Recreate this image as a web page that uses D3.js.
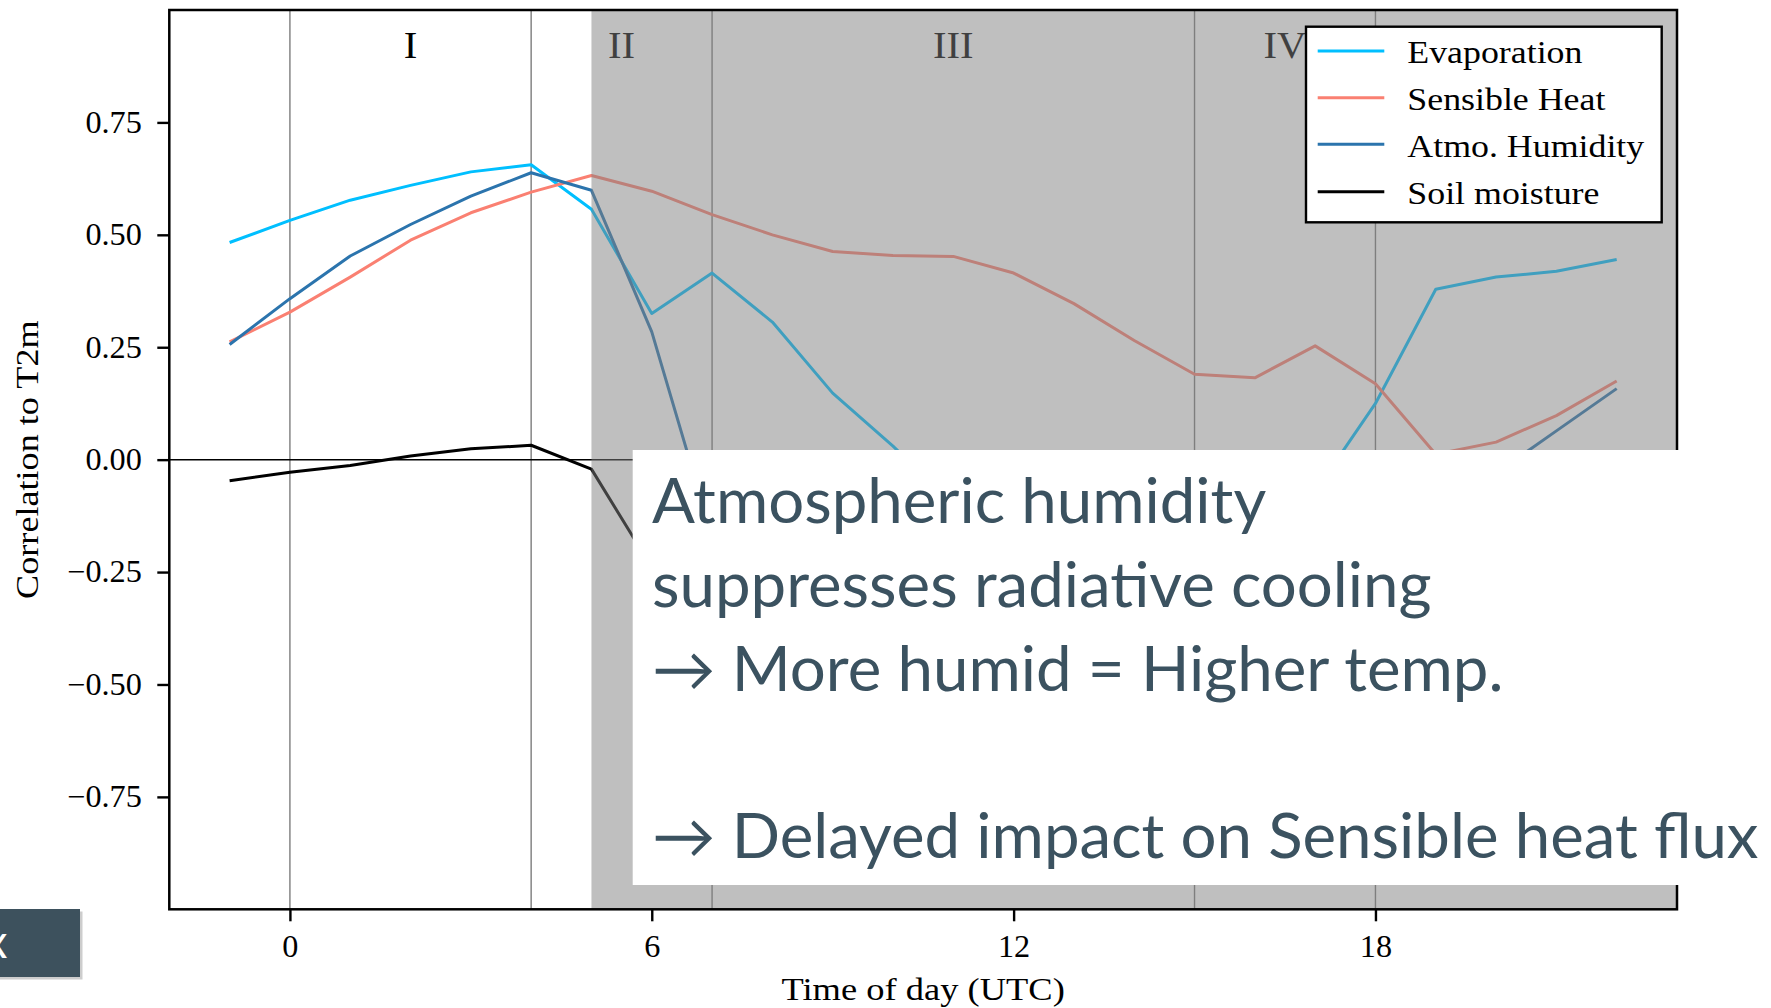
<!DOCTYPE html>
<html><head><meta charset="utf-8">
<script src="https://cdn.jsdelivr.net/npm/d3@7"></script>
<style>html,body{margin:0;padding:0;background:#fff;overflow:hidden}</style>
</head><body><svg id="c" width="1771" height="1008"></svg>
<script>
// ---------- data ----------
const hours = [-1,0,1,2,3,4,5,6,7,8,9,10,11,12,13,14,15,16,17,18,19,20,21,22];
const evaporation  = [0.483,0.532,0.577,0.610,0.640,0.656,0.557,0.325,0.415,0.306,0.148,0.030,-0.10,-0.21,-0.29,-0.33,-0.32,-0.24,-0.071,0.125,0.379,0.406,0.419,0.445];
const sensibleHeat = [0.262,0.328,0.406,0.488,0.549,0.595,0.632,0.597,0.545,0.500,0.463,0.454,0.452,0.415,0.347,0.265,0.190,0.182,0.253,0.169,0.012,0.039,0.098,0.175];
const atmoHumidity = [0.256,0.358,0.453,0.523,0.586,0.638,0.599,0.284,-0.17,-0.45,-0.60,-0.68,-0.70,-0.68,-0.62,-0.55,-0.45,-0.38,-0.30,-0.22,-0.12,-0.030,0.064,0.158];
const soilMoisture = [-0.047,-0.028,-0.013,0.008,0.024,0.032,-0.021,-0.24,-0.35,-0.42,-0.46,-0.48,-0.49,-0.49,-0.47,-0.44,-0.40,-0.36,-0.30,-0.25,-0.20,-0.17,-0.15,-0.14];
const seriesNames  = ["Evaporation","Sensible Heat","Atmo. Humidity","Soil moisture"];
const seriesColors = ["#00bfff","#fa8072","#2b74ad","#000000"];
const xTicks = [0,6,12,18];
const yTicks = [-0.75,-0.5,-0.25,0,0.25,0.5,0.75];
const phaseBounds  = [0,4,7,15,18];
const phaseLabels  = ["I","II","III","IV","V"];
const phaseCenters = [2,5.5,11,16.5,20.5];
const shadeStart = 5;
const xLabel = "Time of day (UTC)";
const yLabel = "Correlation to T2m";
const noteLines = ["Atmospheric humidity","suppresses radiative cooling","\u2192 More humid = Higher temp.","","\u2192 Delayed impact on Sensible heat flux"];

// ---------- layout ----------
const svg = d3.select("#c");
const L = 169.3, R = 1677, T = 10, B = 909.3;
const x = d3.scaleLinear().domain([-2,23]).range([L,R]);
const y = d3.scaleLinear().domain([-1,1]).range([B,T]);
const serif = "'Liberation Serif','Times New Roman',serif";

// widen glyphs to mimic Computer Modern proportions
function stretch(sel, f){
  sel.each(function(){
    const w = this.getComputedTextLength();
    if (w > 0) d3.select(this).attr("textLength", w*f).attr("lengthAdjust","spacingAndGlyphs");
  });
}

svg.append("rect").attr("width",1771).attr("height",1008).attr("fill","#fff");
svg.append("defs").append("clipPath").attr("id","pc")
  .append("rect").attr("x",L).attr("y",T).attr("width",R-L).attr("height",B-T);

const plot = svg.append("g").attr("clip-path","url(#pc)");

// phase boundaries
plot.selectAll("line.vb").data(phaseBounds).enter().append("line")
  .attr("x1",d=>x(d)).attr("x2",d=>x(d)).attr("y1",T).attr("y2",B)
  .attr("stroke","#7c7c7c").attr("stroke-width",1.4);
// zero line
plot.append("line").attr("x1",L).attr("x2",R).attr("y1",y(0)).attr("y2",y(0))
  .attr("stroke","#000").attr("stroke-width",1.5);

// series
const seriesData = [evaporation, sensibleHeat, atmoHumidity, soilMoisture];
const line = d3.line().x((d,i)=>x(hours[i])).y(d=>y(d));
seriesData.forEach((s,k)=>{
  plot.append("path").datum(s).attr("d",line).attr("fill","none")
    .attr("stroke",seriesColors[k]).attr("stroke-width",3)
    .attr("stroke-linejoin","round").attr("stroke-linecap","butt");
});

// phase labels
const ph = plot.selectAll("text.ph").data(phaseLabels).enter().append("text")
  .attr("x",(d,i)=>x(phaseCenters[i])).attr("y",58)
  .attr("text-anchor","middle").attr("font-family",serif).attr("font-size",37)
  .attr("fill","#000").text(d=>d);
stretch(ph,1.1);

// shading
plot.append("rect").attr("x",x(shadeStart)).attr("y",T).attr("width",R-x(shadeStart)).attr("height",B-T)
  .attr("fill","#808080").attr("fill-opacity",0.5);

// axes
const ya = svg.append("g").attr("transform",`translate(${L},0)`)
  .call(d3.axisLeft(y).tickValues(yTicks).tickSize(12).tickSizeOuter(0).tickPadding(15.5)
    .tickFormat(d3.format(".2f")));
const xa = svg.append("g").attr("transform",`translate(0,${B})`)
  .call(d3.axisBottom(x).tickValues(xTicks).tickSize(12).tickSizeOuter(0).tickPadding(14)
    .tickFormat(d3.format("d")));
[ya,xa].forEach(a=>{
  a.select(".domain").remove();
  a.selectAll(".tick line").attr("stroke","#000").attr("stroke-width",2.4);
  a.selectAll(".tick text").attr("font-family",serif).attr("font-size",31).attr("fill","#000");
  stretch(a.selectAll(".tick text"),1.04);
});

// frame
svg.append("rect").attr("x",L).attr("y",T).attr("width",R-L).attr("height",B-T)
  .attr("fill","none").attr("stroke","#000").attr("stroke-width",2.5);

// axis labels
const xl = svg.append("text").attr("x",(L+R)/2).attr("y",1000).attr("text-anchor","middle")
  .attr("font-family",serif).attr("font-size",32).attr("fill","#000").text(xLabel);
const yl = svg.append("text").attr("transform",`translate(38,${(T+B)/2}) rotate(-90)`).attr("text-anchor","middle")
  .attr("font-family",serif).attr("font-size",32).attr("fill","#000").text(yLabel);
stretch(xl,1.14); stretch(yl,1.13);

// legend
const lg = svg.append("g");
lg.append("rect").attr("x",1306).attr("y",26.7).attr("width",355.7).attr("height",195.6)
  .attr("fill","#fff").attr("stroke","#000").attr("stroke-width",2.4);
const legY = [51,97.7,144.3,191.7];
seriesNames.forEach((n,k)=>{
  lg.append("line").attr("x1",1317.7).attr("x2",1384.3).attr("y1",legY[k]).attr("y2",legY[k])
    .attr("stroke",seriesColors[k]).attr("stroke-width",3);
  const t = lg.append("text").attr("x",1407.3).attr("y",legY[k]+12.3).attr("font-family",serif)
    .attr("font-size",32).attr("fill","#000").text(n);
  stretch(t,1.12);
});

// overlay note box
svg.append("rect").attr("x",632.7).attr("y",450).attr("width",1771-632.7).attr("height",435).attr("fill","#fff");
const note = svg.append("g");
noteLines.forEach((t,i)=>{
  const tx = note.append("text").attr("x",652).attr("y",523.3+i*83.6)
    .attr("font-family","Lato,'Noto Sans',sans-serif").attr("font-size",62)
    .attr("fill","#3b5260").text(t);
  if (t) stretch(tx,1.025);
});

// bottom-left button
svg.append("rect").attr("x",0).attr("y",911.5).attr("width",82.5).attr("height",68).attr("fill","#cdcdcd");
svg.append("rect").attr("x",0).attr("y",909).attr("width",80).attr("height",68).attr("fill","#3d515d");
svg.append("text").attr("x",-4).attr("y",958).attr("text-anchor","middle")
  .attr("font-family","Lato,sans-serif").attr("font-size",46).attr("fill","#fff").text("x");
</script></body></html>
